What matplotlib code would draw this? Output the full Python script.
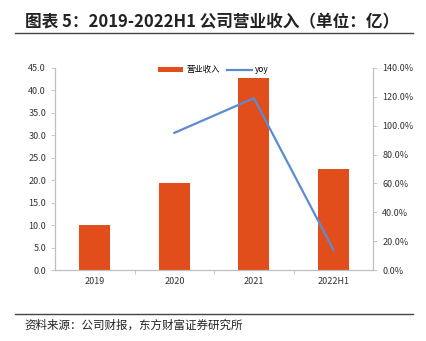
import matplotlib
matplotlib.use('Agg')
import matplotlib.pyplot as plt
from matplotlib.ticker import FuncFormatter

plt.rcParams['font.family'] = ['Noto Sans CJK SC', 'DejaVu Sans']

years = ['2019', '2020', '2021', '2022H1']
revenue = [10.0, 19.4, 42.8, 22.5]
yoy_years = ['2020', '2021', '2022H1']
yoy = [95.0, 119.0, 14.0]

bar_color = '#E24E1B'
line_color = '#5B8BD0'
spine_color = '#BFBFBF'

fig = plt.figure(figsize=(4.27, 3.41), dpi=100)
ax = fig.add_axes([0.129, 0.208, 0.745, 0.593])
ax2 = ax.twinx()

x = list(range(len(years)))
bars = ax.bar(x, revenue, width=0.39, color=bar_color, label='营业收入', zorder=2)
xi = [years.index(y) for y in yoy_years]
line, = ax2.plot(xi, yoy, color=line_color, lw=1.6, label='yoy', zorder=3)

ax.set_xlim(-0.5, 3.5)
ax.set_ylim(0, 45)
ax.set_yticks([i * 5 for i in range(10)])
ax.yaxis.set_major_formatter(FuncFormatter(lambda v, p: f'{v:.1f}'))
ax2.set_ylim(0, 140)
ax2.set_yticks([i * 20 for i in range(8)])
ax2.yaxis.set_major_formatter(FuncFormatter(lambda v, p: f'{v:.1f}%'))
ax.set_xticks(x)
ax.set_xticklabels(years)
ax.set_xticks([0.5, 1.5, 2.5], minor=True)

for a in (ax, ax2):
    a.spines['top'].set_visible(False)
    for s in ('left', 'right', 'bottom'):
        a.spines[s].set_color(spine_color)
        a.spines[s].set_linewidth(0.8)
    a.tick_params(axis='y', labelsize=6.5, colors='#333333', length=3, width=0.6, color=spine_color)
ax.tick_params(axis='x', which='major', labelsize=6.5, colors='#333333', length=0, pad=5)
ax.tick_params(axis='x', which='minor', length=3, width=0.6, color=spine_color)
ax.set_zorder(ax2.get_zorder() - 1)
ax2.patch.set_visible(False)

fig.legend([bars, line], ['营业收入', 'yoy'], loc='center', bbox_to_anchor=(0.5, 0.795),
           ncol=2, frameon=False, fontsize=6, handlelength=3, handleheight=0.5,
           columnspacing=0.8, handletextpad=0.4)

fig.text(0.058, 0.935, '图表 5：2019-2022H1 公司营业收入（单位：亿）', fontsize=12,
         fontweight='bold', va='center', ha='left', color='#222222')
fig.add_artist(plt.Line2D([0.035, 0.968], [0.903, 0.903], color='#444444', lw=1.0))
fig.add_artist(plt.Line2D([0.035, 0.968], [0.08, 0.08], color='#444444', lw=1.0))
fig.text(0.058, 0.047, '资料来源：公司财报，东方财富证券研究所', fontsize=8.3,
         va='center', ha='left', color='#222222')

fig.savefig('out.png', dpi=100)
